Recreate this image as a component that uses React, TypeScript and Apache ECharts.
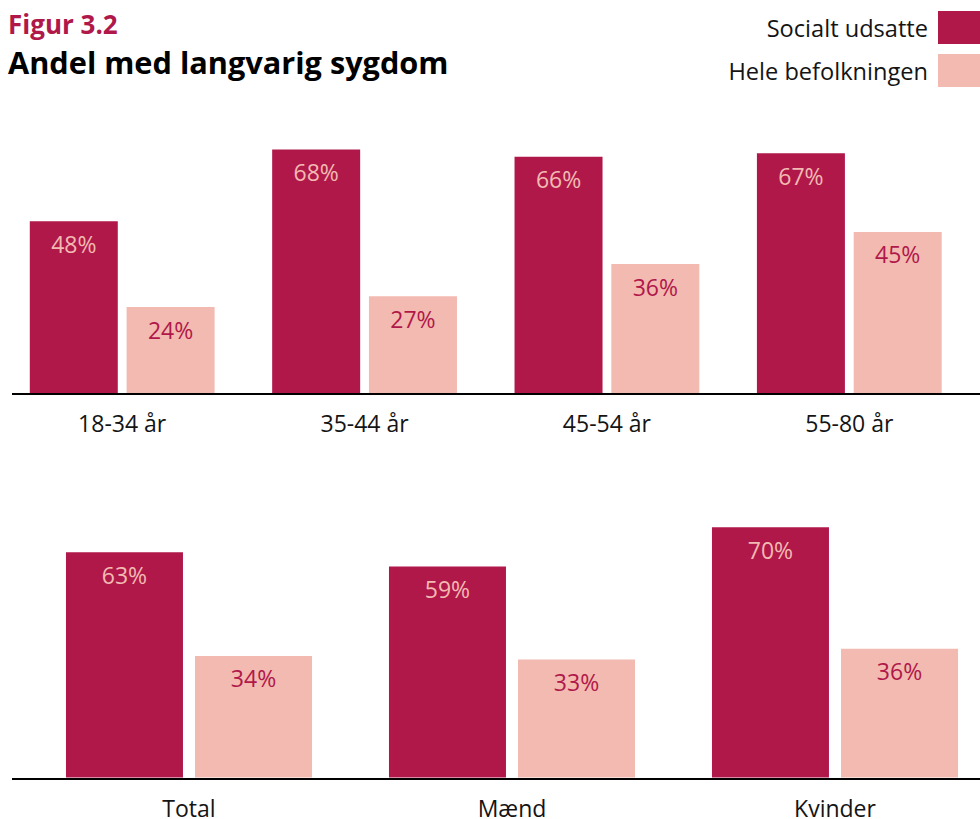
import React, { useEffect, useRef } from 'react';
import * as echarts from 'echarts';

const topCategories = ['18-34 år', '35-44 år', '45-54 år', '55-80 år'];
const topSocial = [48, 68, 66, 67];
const topPopulation = [24, 27, 36, 45];
const bottomCategories = ['Total', 'Mænd', 'Kvinder'];
const bottomSocial = [63, 59, 70];
const bottomPopulation = [34, 33, 36];
const seriesNames = ['Socialt udsatte', 'Hele befolkningen'];

const DARK = '#B0184A';
const LIGHT = '#F2BAB1';
const FONT = "'Open Sans', 'Noto Sans', sans-serif";
const EXTRA = 20; // chart canvas is wider than the visible page so the last group can sit near the edge

export default function App() {
  const ref = useRef<HTMLDivElement>(null);
  useEffect(() => {
    const chart = echarts.init(ref.current as HTMLDivElement, null, { renderer: 'svg' });
    const label = (color: string) => ({
      show: true,
      position: 'insideTop',
      distance: 11,
      formatter: '{c}%',
      color,
      fontSize: 23,
      fontFamily: FONT,
    });
    const xAxis = (gridIndex: number, data: string[]) => ({
      type: 'category',
      gridIndex,
      data,
      axisLine: { show: false },
      axisTick: { show: false },
      axisLabel: { margin: 20, fontSize: 23, lineHeight: 20, color: '#141414', fontFamily: FONT },
    });
    const yAxis = (gridIndex: number) => ({
      type: 'value',
      gridIndex,
      min: 0,
      max: 100,
      show: false,
    });
    chart.setOption({
      animation: false,
      textStyle: { fontFamily: FONT },
      title: [
        {
          text: 'Figur 3.2',
          left: 8,
          top: 11,
          padding: 0,
          textStyle: { color: DARK, fontSize: 26, fontWeight: 'bold', fontFamily: FONT },
        },
        {
          text: 'Andel med langvarig sygdom',
          left: 8,
          top: 46,
          padding: 0,
          textStyle: { color: '#000', fontSize: 30.7, fontWeight: 'bold', fontFamily: FONT },
        },
      ],
      legend: {
        data: seriesNames,
        orient: 'vertical',
        right: EXTRA,
        top: 11,
        padding: 0,
        align: 'right',
        icon: 'rect',
        itemWidth: 42,
        itemHeight: 33,
        itemGap: 10,
        selectedMode: false,
        textStyle: { fontSize: 23.6, color: '#141414', fontFamily: FONT, padding: [0, 5, 0, 0] },
      },
      grid: [
        { left: 1, top: 35, width: 969.5, height: 358 },
        { left: 27.5, top: 420, width: 969, height: 358 },
      ],
      xAxis: [xAxis(0, topCategories), xAxis(1, bottomCategories)],
      yAxis: [yAxis(0), yAxis(1)],
      series: [
        {
          name: seriesNames[0],
          type: 'bar',
          xAxisIndex: 0,
          yAxisIndex: 0,
          data: topSocial,
          barWidth: 88,
          barGap: '10%',
          itemStyle: { color: DARK },
          label: label(LIGHT),
        },
        {
          name: seriesNames[1],
          type: 'bar',
          xAxisIndex: 0,
          yAxisIndex: 0,
          data: topPopulation,
          barWidth: 88,
          barGap: '10%',
          itemStyle: { color: LIGHT },
          label: label(DARK),
        },
        {
          name: seriesNames[0],
          type: 'bar',
          xAxisIndex: 1,
          yAxisIndex: 1,
          data: bottomSocial,
          barWidth: 117,
          barGap: '10.3%',
          itemStyle: { color: DARK },
          label: label(LIGHT),
        },
        {
          name: seriesNames[1],
          type: 'bar',
          xAxisIndex: 1,
          yAxisIndex: 1,
          data: bottomPopulation,
          barWidth: 117,
          barGap: '10.3%',
          itemStyle: { color: LIGHT },
          label: label(DARK),
        },
      ],
      graphic: [
        {
          type: 'line',
          z: 100,
          shape: { x1: 12, y1: 394, x2: 980, y2: 394 },
          style: { stroke: '#000', lineWidth: 2 },
        },
        {
          type: 'line',
          z: 100,
          shape: { x1: 12, y1: 779, x2: 980, y2: 779 },
          style: { stroke: '#000', lineWidth: 2 },
        },
      ],
    });
    return () => chart.dispose();
  }, []);
  return (
    <div style={{ position: 'absolute', left: 0, top: 0, width: 980, height: 819, overflow: 'hidden' }}>
      <div ref={ref} style={{ width: 980 + EXTRA, height: 819 }} />
    </div>
  );
}
